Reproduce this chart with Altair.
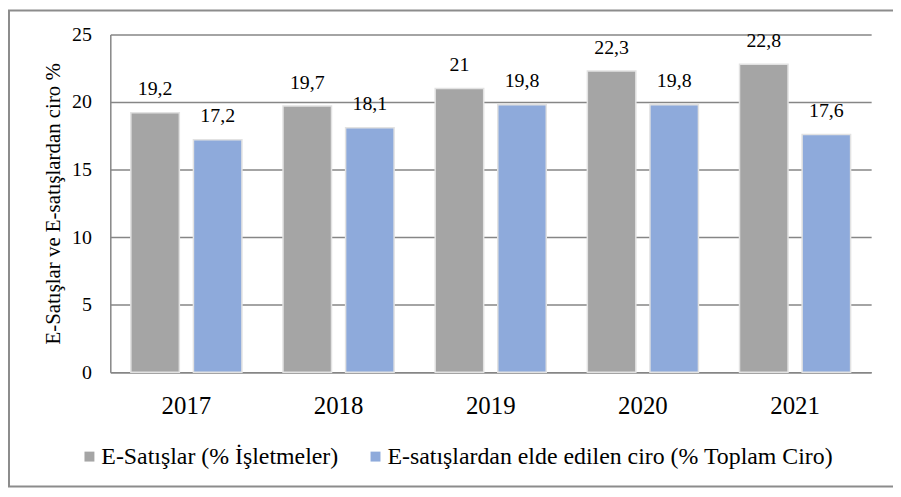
import altair as alt
import pandas as pd

years = ["2017", "2018", "2019", "2020", "2021"]
series_names = ["E-Satışlar (% İşletmeler)", "E-satışlardan elde edilen ciro (% Toplam Ciro)"]
e_satislar = [19.2, 19.7, 21.0, 22.3, 22.8]
e_ciro = [17.2, 18.1, 19.8, 19.8, 17.6]
colors = ["#a5a5a5", "#8eaadb"]
y_title = "E-Satışlar ve E-satışlardan  ciro %"

rows = []
for i, y in enumerate(years):
    for s, vals in zip(series_names, [e_satislar, e_ciro]):
        v = vals[i]
        rows.append({"year": y, "series": s, "value": v,
                     "label": f"{v:g}".replace(".", ",")})
df = pd.DataFrame(rows)

FONT = "Liberation Serif, Times New Roman, serif"
W, H = 766, 340

base = alt.Chart(df).encode(
    x=alt.X("year:N", sort=years, title=None,
            scale=alt.Scale(paddingInner=0.27, paddingOuter=0.135),
            axis=alt.Axis(labelAngle=0, labelFontSize=25, labelPadding=22,
                          ticks=False, domainColor="#868686", domainWidth=1.5,
                          labelColor="black", labelFont=FONT)),
    xOffset=alt.XOffset("series:N", sort=series_names,
                        scale=alt.Scale(paddingInner=0.225, paddingOuter=0)),
)

bars = base.mark_bar(stroke="#e2e2e2", strokeWidth=1.5).encode(
    y=alt.Y("value:Q", title=y_title,
            scale=alt.Scale(domain=[0, 25], nice=False),
            axis=alt.Axis(values=[0, 5, 10, 15, 20, 25], grid=True, gridColor="#868686",
                          gridWidth=1.5, ticks=False, domainColor="#868686", domainWidth=1.5,
                          labelFontSize=20, labelPadding=19, labelColor="black", labelFont=FONT,
                          titleFontSize=21, titleFont=FONT, titleFontWeight="normal",
                          titleColor="black", titlePadding=8)),
    color=alt.Color("series:N", sort=series_names,
                    scale=alt.Scale(domain=series_names, range=colors),
                    legend=alt.Legend(title=None, orient="none", direction="horizontal",
                                      legendX=-33, legendY=413, symbolType="square",
                                      symbolSize=100, symbolStrokeWidth=0,
                                      labelFontSize=24, labelFont=FONT, labelColor="black",
                                      labelOffset=0, columnPadding=25, padding=0,
                                      labelLimit=0)),
)

labels = base.mark_text(baseline="alphabetic", dy=-17.5, fontSize=20, font=FONT,
                        color="black").encode(
    y=alt.Y("value:Q"),
    text="label:N",
)

frame = alt.Chart(pd.DataFrame({"a": [0]})).mark_rect(
    fill="transparent", stroke="#8c8c8c", strokeWidth=2
).encode(
    x=alt.value(-102), x2=alt.value(900),
    y=alt.value(-24), y2=alt.value(455),
)

chart = alt.layer(frame, bars, labels).properties(
    width=W, height=H,
    autosize=alt.AutoSizeParams(type="none"),
    padding={"left": 103, "top": 25, "right": 22, "bottom": 116},
).configure(background="white", font=FONT).configure_view(strokeWidth=0)

chart.save("out.html", embed_options={"renderer": "svg", "actions": False})
